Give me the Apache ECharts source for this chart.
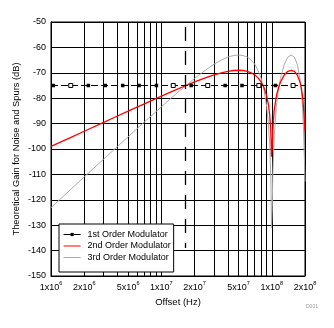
<!DOCTYPE html>
<html><head><meta charset="utf-8">
<script src="https://cdn.jsdelivr.net/npm/echarts@6/dist/echarts.min.js"></script>
<style>html,body{margin:0;padding:0;background:#fff}#c{width:334px;height:328px}</style>
</head><body><div id="c"></div><script>
// ---- data ----
const freqHz = [1e6,1.5e6,2e6,3e6,4e6,5e6,7e6,1e7,1.3e7,1.67e7,2e7,2.5e7,3e7,3.5e7,4e7,4.5e7,5e7,5.5e7,6e7,6.5e7,7e7,7.5e7,8e7,8.5e7,9e7,9.3e7,9.6e7,9.8e7,9.9e7,9.94e7,1.01e8,1.02e8,1.05e8,1.1e8,1.15e8,1.2e8,1.3e8,1.4e8,1.5e8,1.6e8,1.7e8,1.8e8,1.85e8,1.9e8,1.95e8,2e8];
const secondOrder = [-99.0,-95.5,-93.0,-89.5,-87.0,-85.1,-82.2,-79.2,-77.0,-75.0,-73.6,-72.0,-70.8,-70.0,-69.4,-69.1,-69.0,-69.1,-69.4,-70.0,-70.8,-72.0,-73.6,-75.8,-79.2,-82.2,-87.0,-93.0,-99.0,-103.0,-99.0,-93.0,-85.1,-79.2,-75.8,-73.6,-70.8,-69.4,-69.0,-69.4,-70.8,-73.6,-75.8,-79.2,-85.1,-93.0];
const thirdOrder = [-123.1,-116.0,-111.0,-104.0,-99.0,-95.2,-89.4,-83.4,-79.0,-75.0,-72.2,-69.0,-66.6,-65.0,-63.8,-63.2,-63.0,-63.2,-63.8,-65.0,-66.6,-69.0,-72.2,-76.7,-83.4,-89.4,-99.0,-111.0,-123.1,-131.0,-123.1,-111.0,-95.2,-83.4,-76.7,-72.2,-66.6,-63.8,-63.0,-63.8,-66.6,-72.2,-76.7,-83.4,-95.2,-112.8];
const firstOrderFreq = [1e6,1.05e6,1.51e6,2.18e6,3.10e6,4.46e6,6.28e6,9.02e6,1.28e7,1.86e7,2.63e7,3.78e7,5.37e7,7.64e7,1.08e8,1.56e8,2e8];
const firstOrderGain = [-75,-75,-75,-75,-75,-75,-75,-75,-75,-75,-75,-75,-75,-75,-75,-75,-75];
const crossoverFreq = [1.65e7];
const crossoverSpan = [-52, -139];
const seriesNames = ['1st Order Modulator','2nd Order Modulator','3rd Order Modulator'];
const xTickValues = [1e6,2e6,5e6,1e7,2e7,5e7,1e8,2e8];
const xTickLabels = ['1x10|6','2x10|6','5x10|6','1x10|7','2x10|7','5x10|7','1x10|8','2x10|8'];
const xGridValues = [1e6,2e6,3e6,4e6,5e6,6e6,7e6,8e6,9e6,1e7,2e7,3e7,4e7,5e7,6e7,7e7,8e7,9e7,1e8,2e8];
const yTickValues = [-150,-140,-130,-120,-110,-100,-90,-80,-70,-60,-50];

// ---- styling helpers ----
const FONT = '"Liberation Sans", Arial, sans-serif';
const hollowIdx = [2,8,10,13,15];
const firstData = firstOrderFreq.map((f,i)=>{
  const item = {value:[f, firstOrderGain[i]]};
  if (i===0 || i===firstOrderFreq.length-1) item.symbol = 'none';
  else if (hollowIdx.indexOf(i) >= 0) { item.symbolSize = 4; item.itemStyle = {color:'#fff', borderColor:'#000', borderWidth:1}; }
  return item;
});
const pair = (ys) => freqHz.map((f,i)=>[f, ys[i]]);

const chart = echarts.init(document.getElementById('c'), null, {renderer:'canvas'});
chart.setOption({
  animation:false,
  backgroundColor:'#fff',
  grid:{left:51,right:29,top:22,bottom:52,show:true,borderColor:'#000',borderWidth:1,backgroundColor:'transparent'},
  xAxis:{
    type:'log', logBase:10, min:1e6, max:2e8,
    axisLine:{show:true,lineStyle:{color:'#000',width:1}},
    axisTick:{show:false, customValues:xGridValues},
    splitLine:{show:true, lineStyle:{color:'#000',width:1}},
    minorTick:{show:false}, minorSplitLine:{show:false},
    axisLabel:{
      customValues:xTickValues, margin:4, color:'#000', fontFamily:FONT, fontSize:9,
      formatter:(v)=>{
        let k = 0, best = Infinity;
        xTickValues.forEach((t,i)=>{ const d = Math.abs(Math.log10(t)-Math.log10(v)); if (d<best){best=d;k=i;} });
        const p = xTickLabels[k].split('|');
        return '{b|'+p[0]+'}{s|'+p[1]+'}';
      },
      rich:{
        b:{fontSize:9, fontFamily:FONT, color:'#000', lineHeight:12, verticalAlign:'bottom'},
        s:{fontSize:5.5, fontFamily:FONT, color:'#000', lineHeight:12, verticalAlign:'top', padding:[0,0,4,0]}
      }
    },
    name:'Offset (Hz)', nameLocation:'middle', nameGap:21, nameMoveOverlap:false,
    nameTextStyle:{color:'#000', fontSize:9.5, fontFamily:FONT}
  },
  yAxis:{
    type:'value', min:-150, max:-50, interval:10,
    axisLine:{show:true,lineStyle:{color:'#000',width:1}},
    axisTick:{show:false},
    splitLine:{show:true, lineStyle:{color:'#000',width:1}},
    axisLabel:{color:'#000', fontSize:9, fontFamily:FONT, margin:5,
      formatter:(v)=> String(yTickValues[yTickValues.indexOf(v)])},
    name:'Theoretical Gain for Noise and Spurs (dB)', nameLocation:'middle', nameGap:30, nameMoveOverlap:false,
    nameTextStyle:{color:'#000', fontSize:9.3, fontFamily:FONT}
  },
  legend:{
    orient:'vertical', left:59, top:224, padding:[5,3,9,4],
    itemWidth:17, itemHeight:4, itemGap:0.5,
    backgroundColor:'#fff', borderColor:'#000', borderWidth:1, borderRadius:0,
    textStyle:{fontSize:9, color:'#000', fontFamily:FONT, lineHeight:11, padding:[0,0,0,2]},
    data:[
      {name:seriesNames[0], lineStyle:{width:1.2}},
      {name:seriesNames[1], itemStyle:{opacity:0}, lineStyle:{width:1}},
      {name:seriesNames[2], itemStyle:{opacity:0}, lineStyle:{width:1}}
    ]
  },
  series:[
    {
      name:seriesNames[2], type:'line', data:pair(thirdOrder), showSymbol:false, symbol:'none',
      lineStyle:{color:'#ababab', width:1}, itemStyle:{color:'#ababab'}, z:3
    },
    {
      name:seriesNames[1], type:'line', data:pair(secondOrder), showSymbol:false, symbol:'none',
      lineStyle:{color:'#ff0000', width:1.3}, itemStyle:{color:'#ff0000'}, z:4
    },
    {
      name:seriesNames[0], type:'line', data:firstData, symbol:'rect', symbolSize:3.5, showAllSymbol:true,
      lineStyle:{color:'#000', width:1, type:[7,3]}, itemStyle:{color:'#000'}, z:5,
      markLine:{
        silent:true, symbol:['none','none'], label:{show:false},
        lineStyle:{color:'#000', type:[14,10], width:1.3},
        data:[[{coord:[crossoverFreq[0], crossoverSpan[0]]},{coord:[crossoverFreq[0], crossoverSpan[1]]}]]
      }
    }
  ],
  graphic:[{type:'text', left:306, top:304, style:{text:'D001', fontSize:5, fill:'#999', fontFamily:FONT}}]
});
</script></body></html>
